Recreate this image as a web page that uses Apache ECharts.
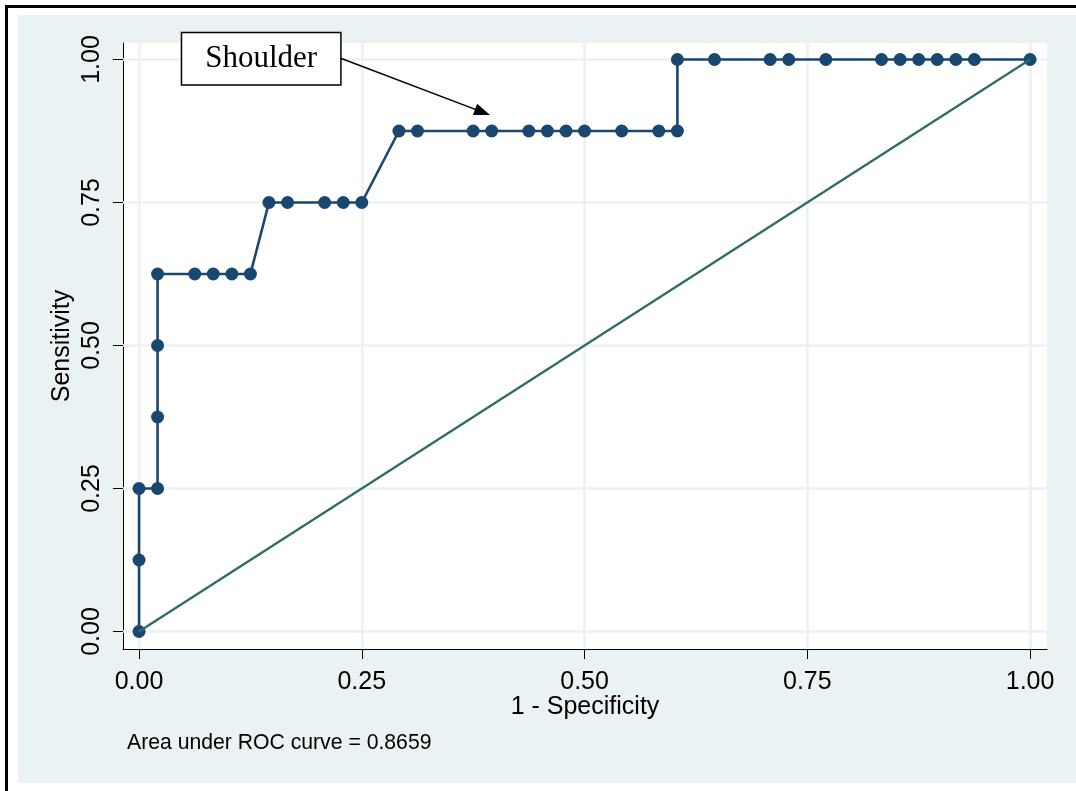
<!DOCTYPE html>
<html>
<head>
<meta charset="utf-8">
<script src="https://cdn.jsdelivr.net/npm/echarts@6/dist/echarts.min.js"></script>
<style>
html,body{margin:0;padding:0;background:#fff;}
#chart{width:1076px;height:791px;}
</style>
</head>
<body>
<div id="chart"></div>
<script>
// ROC curve points (1 - Specificity, Sensitivity)
const fpr = [0, 0, 0, 0.0208, 0.0208, 0.0208, 0.0208, 0.0625, 0.0833, 0.1042, 0.125,
  0.1458, 0.1667, 0.2083, 0.2292, 0.25,
  0.2917, 0.3125, 0.375, 0.3958, 0.4375, 0.4583, 0.4792, 0.5, 0.5417, 0.5833, 0.6042,
  0.6042, 0.6458, 0.7083, 0.7292, 0.7708, 0.8333, 0.8542, 0.875, 0.8958, 0.9167, 0.9375, 1];
const tpr = [0, 0.125, 0.25, 0.25, 0.375, 0.5, 0.625, 0.625, 0.625, 0.625, 0.625,
  0.75, 0.75, 0.75, 0.75, 0.75,
  0.875, 0.875, 0.875, 0.875, 0.875, 0.875, 0.875, 0.875, 0.875, 0.875, 0.875,
  1, 1, 1, 1, 1, 1, 1, 1, 1, 1, 1, 1];
// reference (chance) line
const refX = [0, 1];
const refY = [0, 1];
// tick values
const xTicks = [0, 0.25, 0.5, 0.75, 1];
const yTicks = [0, 0.25, 0.5, 0.75, 1];
// annotation
const shoulderText = 'Shoulder';
const shoulderBox = [0.1371, 1.0012];
const arrowFrom = [0.2256, 1.0026];
const arrowTo = [0.3855, 0.9079];
const aucText = 'Area under ROC curve = 0.8659';

const rocData = fpr.map((x, i) => [x, tpr[i]]);
const refData = refX.map((x, i) => [x, refY[i]]);
const fmt = v => v.toFixed(2);
const gridColor = '#EAF2F3';
const sans = 'Liberation Sans';

const chart = echarts.init(document.getElementById('chart'), null, {renderer: 'canvas'});
chart.setOption({
  backgroundColor: '#EAF2F3',
  animation: false,
  title: {
    text: aucText, left: 122, top: 728,
    textStyle: {fontFamily: sans, fontSize: 21.2, fontWeight: 'normal', color: '#000'}
  },
  graphic: [
    {type: 'rect', shape: {x: 0, y: 0, width: 1076, height: 15}, style: {fill: '#fff'}, silent: true},
    {type: 'rect', shape: {x: 0, y: 0, width: 18, height: 791}, style: {fill: '#fff'}, silent: true},
    {type: 'rect', shape: {x: 0, y: 783, width: 1076, height: 8}, style: {fill: '#fff'}, silent: true},
    {type: 'rect', shape: {x: 5, y: 5, width: 1071, height: 3}, style: {fill: '#000'}, silent: true},
    {type: 'rect', shape: {x: 5, y: 5, width: 3, height: 786}, style: {fill: '#000'}, silent: true}
  ],
  grid: {
    left: 123, right: 29, top: 43, bottom: 142,
    show: true, backgroundColor: '#fff', borderWidth: 0
  },
  xAxis: {
    type: 'value', min: -0.018, max: 1.019,
    name: '1 - Specificity', nameLocation: 'middle', nameGap: 46, nameMoveOverlap: false,
    nameTextStyle: {fontFamily: sans, fontSize: 25, color: '#000'},
    axisLine: {show: true, onZero: false, lineStyle: {color: '#000', width: 1}},
    axisTick: {show: true, customValues: xTicks, length: 10, lineStyle: {color: '#000', width: 1}},
    axisLabel: {customValues: xTicks, formatter: fmt, margin: 21, fontFamily: sans, fontSize: 25, color: '#000'},
    splitLine: {show: false}
  },
  yAxis: {
    type: 'value', min: -0.0306, max: 1.0288,
    name: 'Sensitivity', nameLocation: 'middle', nameGap: 48, nameMoveOverlap: false,
    nameTextStyle: {fontFamily: sans, fontSize: 25, color: '#000'},
    axisLine: {show: true, onZero: false, lineStyle: {color: '#000', width: 1}},
    axisTick: {show: true, customValues: yTicks, length: 10, lineStyle: {color: '#000', width: 1}},
    axisLabel: {customValues: yTicks, formatter: fmt, rotate: 90, margin: 18, fontFamily: sans, fontSize: 25, color: '#000'},
    splitLine: {show: false}
  },
  series: [
    {
      type: 'line', data: [], z: 1, silent: true,
      markLine: {
        z: 1,
        silent: true, symbol: 'none', animation: false,
        label: {show: false},
        lineStyle: {color: gridColor, width: 2.5, type: 'solid'},
        data: xTicks.map(v => ({xAxis: v})).concat(yTicks.map(v => ({yAxis: v})))
      }
    },
    {
      type: 'line', data: rocData, z: 3,
      symbol: 'circle', symbolSize: 13,
      itemStyle: {color: '#1A476F'},
      lineStyle: {color: '#1A476F', width: 2.6},
      clip: false
    },
    {
      type: 'line', data: refData, z: 4,
      symbol: 'none',
      lineStyle: {color: '#2D6D66', width: 2.3}
    },
    {
      type: 'line', data: [], z: 5, clip: false,
      markLine: {
        z: 6,
        silent: true, animation: false,
        symbol: ['none', 'triangle'], symbolSize: [12, 16],
        label: {show: false},
        lineStyle: {color: '#000', width: 1.5, type: 'solid'},
        data: [[{coord: arrowFrom}, {coord: arrowTo}]]
      },
      markPoint: {
        z: 6,
        silent: true, animation: false,
        symbol: 'rect', symbolSize: 1, itemStyle: {color: 'rgba(0,0,0,0)'},
        label: {
          show: true, position: 'inside', formatter: shoulderText,
          fontFamily: 'Liberation Serif', fontSize: 31, lineHeight: 31, color: '#000',
          backgroundColor: '#fff', borderColor: '#000', borderWidth: 1.5,
          padding: [16, 23, 4, 23]
        },
        data: [{coord: shoulderBox}]
      }
    }
  ]
});
</script>
</body>
</html>
